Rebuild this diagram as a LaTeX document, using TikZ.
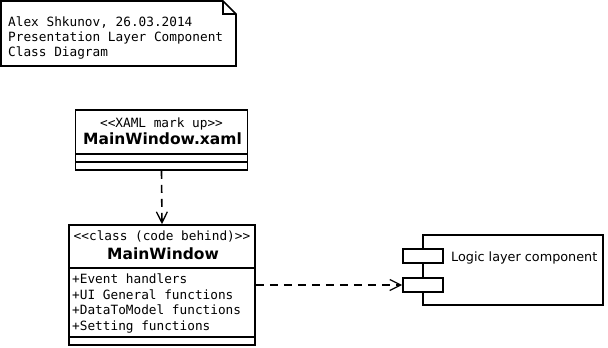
\documentclass[tikz,border=0pt]{standalone}
\usepackage{fontspec}
\setmainfont{DejaVu Sans}
\setsansfont{DejaVu Sans}
\setmonofont{DejaVu Sans Mono}
\usetikzlibrary{arrows.meta}
\begin{document}
\begin{tikzpicture}[x=1pt,y=-1pt,
  box/.style={draw=black,line width=1.6pt,fill=white,inner sep=0pt},
  monotext/.style={font=\fontsize{12.75}{15}\ttfamily,inner sep=0pt},
  nametext/.style={font=\fontsize{15.5}{18}\sffamily\bfseries,inner sep=0pt},
  plaintext/.style={font=\fontsize{12.8}{15}\sffamily,inner sep=0pt},
  dep/.style={line width=1.6pt,dash pattern=on 8pt off 6pt,
    -{Straight Barb[length=11pt,width=11pt,line width=1.3pt]}}]
\useasboundingbox (0,0) rectangle (608,348);
\fill[white] (0,0) rectangle (608,348);

% note with folded corner
\draw[line width=1.6pt,fill=white] (1,1) -- (223,1) -- (236,14) -- (236,66) -- (1,66) -- cycle;
\draw[line width=1.1pt] (223,1) -- (223,14) -- (236,14);
\node[monotext,anchor=base west] (n1) at (8,26.5) {Alex Shkunov, 26.03.2014};
\node[monotext,anchor=base west] (n2) at (8,41.5) {Presentation Layer Component};
\node[monotext,anchor=base west] (n3) at (8,56.5) {Class Diagram};

% MainWindow.xaml class
\node[box,minimum width=172pt,minimum height=60pt] (xaml) at (161.5,140) {};
\draw[line width=1.6pt] (75.5,154) -- (247.5,154) (75.5,162) -- (247.5,162);
\node[monotext,anchor=base] (xst) at (161.5,127.5) {<<XAML mark up>>};
\node[nametext,anchor=base] (xname) at (162.5,144.5) {MainWindow.xaml};

% MainWindow class
\node[box,minimum width=186pt,minimum height=120pt] (mw) at (162,285) {};
\draw[line width=1.6pt] (69,268) -- (255,268) (69,337) -- (255,337);
\node[monotext,anchor=base] (mst) at (162,240) {<<class (code behind)>>};
\node[nametext,anchor=base] (mname) at (163,259) {MainWindow};
\node[monotext,anchor=base west] (m1) at (72,283.5) {+Event handlers};
\node[monotext,anchor=base west] (m2) at (72,299) {+UI General functions};
\node[monotext,anchor=base west] (m3) at (72,314.5) {+DataToModel functions};
\node[monotext,anchor=base west] (m4) at (72,330) {+Setting functions};

% Logic layer component
\node[box,minimum width=180pt,minimum height=70pt] (comp) at (513,270) {};
\node[box,minimum width=40pt,minimum height=14pt] (p1) at (423,256) {};
\node[box,minimum width=40pt,minimum height=14pt] (p2) at (423,285) {};
\node[plaintext,anchor=base west] (clabel) at (451,261.5) {Logic layer component};

% dependencies
\draw[dep] (xaml.south) -- (mw.north);
\draw[dep] (mw.east) -- (p2.west);
\end{tikzpicture}
\end{document}
